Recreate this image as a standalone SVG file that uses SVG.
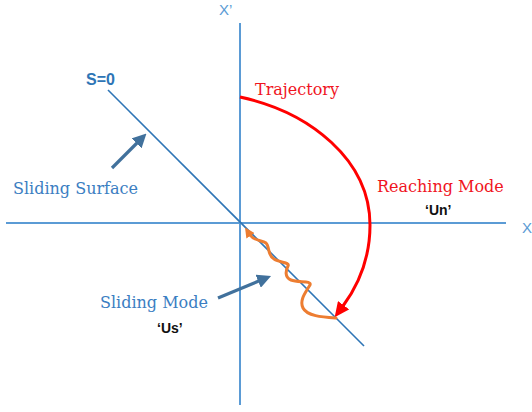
<svg xmlns="http://www.w3.org/2000/svg" width="532" height="412" viewBox="0 0 532 412">
<style>
.axis{stroke:#5B9BD5;stroke-width:2;fill:none}
.surf{stroke:#2E75B6;stroke-width:1.6;fill:none}
.ptr{stroke:#41719C;stroke-width:3.2;fill:none}
.serif{font-family:"DejaVu Serif","Liberation Serif",serif;font-size:16px}
.blue{fill:#3B7EC2}
.red{fill:#F0141E}
.bold{font-family:"Liberation Sans",Arial,sans-serif;font-weight:bold;font-size:14px;fill:#111}
.ax{font-family:"Liberation Sans",Arial,sans-serif;font-size:15px;fill:#5B9BD5}
</style>
<defs>
<marker id="mPtr" markerUnits="userSpaceOnUse" markerWidth="14" markerHeight="14" viewBox="0 0 14 14" refX="2" refY="7" orient="auto">
<path d="M0,0 L14,7 L0,14 z" fill="#41719C"/>
</marker>
<marker id="mRed" markerUnits="userSpaceOnUse" markerWidth="15" markerHeight="14" viewBox="0 0 15 14" refX="1" refY="7" orient="auto">
<path d="M0,0 L15,7 L0,14 z" fill="#FF0000"/>
</marker>
<marker id="mOr" markerUnits="userSpaceOnUse" markerWidth="10" markerHeight="10" viewBox="0 0 10 10" refX="1" refY="5" orient="auto">
<path d="M0,0 L10,5 L0,10 z" fill="#ED7D31"/>
</marker>
</defs>
<g id="axes">
<line class="axis" x1="240" y1="23" x2="240" y2="405"/>
<line class="axis" x1="6" y1="223" x2="506" y2="223"/>
<text class="ax" x="219" y="15">X’</text>
<text class="ax" x="522" y="233">X</text>
</g>
<g id="surface">
<line class="surf" x1="108" y1="90" x2="364" y2="346"/>
<text x="86" y="85" font-family="Liberation Sans,Arial,sans-serif" font-weight="bold" font-size="16" fill="#2E75B6">S=0</text>
</g>
<g id="sliding-surface-label">
<text class="serif blue" x="13" y="194">Sliding Surface</text>
</g>
<g id="trajectory-label">
<text class="serif red" x="255" y="95">Trajectory</text>
</g>
<g id="reaching-mode-label">
<text class="serif red" x="377" y="192">Reaching Mode</text>
<text class="bold" x="425" y="215">‘Un’</text>
</g>
<g id="sliding-mode-label">
<text class="serif blue" x="100" y="308">Sliding Mode</text>
<text class="bold" x="157" y="333">‘Us’</text>
</g>
<g id="connectors">
<line class="ptr" x1="112" y1="168" x2="138" y2="142" marker-end="url(#mPtr)"/>
<line class="ptr" x1="218" y1="298" x2="260" y2="280.5" marker-end="url(#mPtr)"/>
<path d="M240,97 C310,112 370,160 370,225 C370,258 360,283 343,306" fill="none" stroke="#FF0000" stroke-width="3" marker-end="url(#mRed)"/>
<path d="M336,318 C322,317 307,316 303,308 C299,300 306,292 310,285 C312,280 298,283 291,280 C284,277 286,270 288,266 C290,262 280,263 274,259 C267,255 270,247 266,243 C262,240 254,241 250,235" fill="none" stroke="#ED7D31" stroke-width="3" stroke-linecap="round" marker-end="url(#mOr)"/>
</g>
</svg>
